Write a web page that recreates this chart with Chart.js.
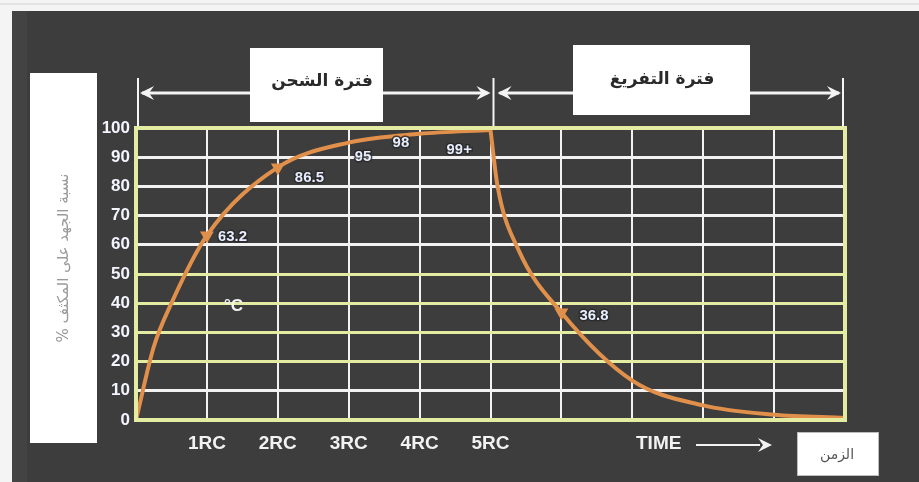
<!DOCTYPE html>
<html lang="ar">
<head>
<meta charset="UTF-8">
<title>RC charge / discharge</title>
<style>
  html, body { margin: 0; padding: 0; background: #f4f4f4; }
  canvas { display: block; }
</style>
</head>
<body>
<canvas id="rcChart" width="919" height="482" dir="ltr"></canvas>

<script src="https://cdn.jsdelivr.net/npm/chart.js"></script>
<script>
    // values (time in RC, voltage in %)
    const chargeTime = [0, 0.25, 0.5, 1, 2, 3, 4, 5];
    const chargeVolt = [0, 25, 40, 63.2, 86.5, 95, 98, 99.3];
    const dischargeTime = [5, 5.1, 5.4, 6, 7, 8, 9, 10];
    const dischargeVolt = [99.3, 80, 58, 36.8, 13.5, 5, 1.8, 0.7];

    const xTickLabels = ['', '1RC', '2RC', '3RC', '4RC', '5RC', '', '', '', '', ''];
    const yTicks = [0, 10, 20, 30, 40, 50, 60, 70, 80, 90, 100];
    const yellowRows = [20, 30, 40, 50];
    const markedTimes = [1, 2, 6];

    // point labels: [time, value, text, dx, dy]
    const pointLabels = [
        [1, 63.2, '63.2', 11, 1],
        [2, 86.5, '86.5', 17, 10],
        [3, 95, '95', 6, 14],
        [4, 98, '98', -27, 9],
        [5, 99.3, '99+', -44, 20],
        [6, 36.8, '36.8', 18, 3]
    ];

    const chargeTitle = 'فترة الشحن';
    const dischargeTitle = 'فترة التفريغ';
    const yTitle = 'نسبة الجهد على المكثف %';
    const timeTitle = 'الزمن';

    const toXY = (xs, ys) => xs.map((x, i) => ({x: x, y: ys[i]}));

    const narrow = "'Liberation Sans Narrow', 'Arial Narrow', 'Liberation Sans', sans-serif";
    const lineColor = '#e0904a';

    function arrowHead(c, x, y, dir) {
        c.beginPath();
        c.moveTo(x, y);
        c.lineTo(x - dir * 14, y - 7);
        c.lineTo(x - dir * 9, y);
        c.lineTo(x - dir * 14, y + 7);
        c.closePath();
        c.fill();
    }

    // draw a label glyph by glyph so that no bidi reordering can move the "+"
    function labelText(c, text, x, y) {
        let cx = x;
        for (const ch of text) {
            c.lineWidth = 3;
            c.strokeStyle = 'rgba(40,40,40,0.8)';
            c.strokeText(ch, cx, y);
            c.fillStyle = '#e8eeff';
            c.fillText(ch, cx, y);
            cx += c.measureText(ch).width;
        }
    }

    const decorations = {
        id: 'decorations',
        beforeDraw(chart) {
            const c = chart.ctx;
            c.save();
            c.fillStyle = '#f4f4f4';
            c.fillRect(0, 0, chart.width, chart.height);
            c.fillStyle = '#e2e2e2';
            c.fillRect(0, 3, chart.width, 2);
            c.fillStyle = '#3d3d3d';
            c.fillRect(12, 11, chart.width - 12, chart.height - 11);
            c.fillStyle = '#434343';
            c.fillRect(12, 11, 15, chart.height - 11);
            c.restore();
        },
        afterDatasetsDraw(chart) {
            const c = chart.ctx;
            const xs = chart.scales.x, ys = chart.scales.y;
            const a = chart.chartArea;
            c.save();
            c.direction = 'ltr';

            // plot frame
            c.strokeStyle = '#e4eca2';
            c.lineWidth = 4;
            c.strokeRect(a.left, a.top, a.right - a.left, a.bottom - a.top);

            // value labels
            c.font = "bold 15px " + narrow;
            c.textBaseline = 'middle';
            c.textAlign = 'left';
            pointLabels.forEach(p => {
                const px = xs.getPixelForValue(p[0]);
                const py = ys.getPixelForValue(p[1]);
                labelText(c, p[2], px + p[3], py + p[4]);
            });

            // °C note
            c.font = "bold 17px " + narrow;
            c.fillStyle = '#f2f2f2';
            c.fillText('°C', 224, 306);

            // TIME arrow under the axis
            c.font = "bold 19px " + narrow;
            c.fillText('TIME', 636, 444);
            c.strokeStyle = '#f2f2f2';
            c.lineWidth = 2;
            c.beginPath();
            c.moveTo(696, 445);
            c.lineTo(760, 445);
            c.stroke();
            c.fillStyle = '#f2f2f2';
            arrowHead(c, 772, 445, 1);

            // top phase arrows
            const xStart = xs.getPixelForValue(0) + 2;
            const xMid = xs.getPixelForValue(5) + 3;
            const xEnd = xs.getPixelForValue(10) - 2;
            c.strokeStyle = '#f4f4f4';
            c.lineWidth = 2;
            [xStart, xMid, xEnd].forEach(x => {
                c.beginPath();
                c.moveTo(x, 78);
                c.lineTo(x, a.top - 2);
                c.stroke();
            });
            c.lineWidth = 3;
            c.beginPath();
            c.moveTo(xStart + 4, 93);
            c.lineTo(xMid - 6, 93);
            c.moveTo(xMid + 6, 93);
            c.lineTo(xEnd - 4, 93);
            c.stroke();
            c.fillStyle = '#f4f4f4';
            arrowHead(c, xStart + 2, 93, -1);
            arrowHead(c, xMid - 3, 93, 1);
            arrowHead(c, xMid + 4, 93, -1);
            arrowHead(c, xEnd - 2, 93, 1);

            // white label boxes
            c.fillStyle = '#ffffff';
            c.fillRect(250, 48, 133, 74);
            c.fillRect(573, 45, 177, 70);
            c.fillRect(30, 73, 67, 370);
            c.fillRect(797, 432, 81, 43);
            c.strokeStyle = '#bdbdbd';
            c.lineWidth = 1;
            c.strokeRect(797.5, 432.5, 81, 43);

            c.direction = 'rtl';
            c.textAlign = 'center';
            c.fillStyle = '#2a2a2a';
            c.font = "bold 17px 'DejaVu Sans', 'Noto Sans', sans-serif";
            c.fillText(chargeTitle, 322, 82);
            c.fillText(dischargeTitle, 662, 80);
            c.font = "14px 'DejaVu Sans', 'Noto Sans', sans-serif";
            c.fillStyle = '#555555';
            c.fillText(timeTitle, 837, 455);
            c.save();
            c.translate(64, 258);
            c.rotate(-Math.PI / 2);
            c.fillStyle = '#9a9a9a';
            c.font = "15px 'DejaVu Sans', 'Noto Sans', sans-serif";
            c.fillText(yTitle, 0, 0);
            c.restore();

            c.restore();
        }
    };

    const markerRadius = (times) => times.map(t => markedTimes.includes(t) ? 4 : 0);

    new Chart(document.getElementById('rcChart'), {
        type: 'line',
        data: {
            datasets: [
                {
                    label: 'charge',
                    data: toXY(chargeTime, chargeVolt),
                    borderColor: lineColor,
                    backgroundColor: lineColor,
                    borderWidth: 4,
                    cubicInterpolationMode: 'monotone',
                    pointStyle: 'triangle',
                    pointRotation: 180,
                    pointRadius: markerRadius(chargeTime)
                },
                {
                    label: 'discharge',
                    data: toXY(dischargeTime, dischargeVolt),
                    borderColor: lineColor,
                    backgroundColor: lineColor,
                    borderWidth: 4,
                    cubicInterpolationMode: 'monotone',
                    pointStyle: 'triangle',
                    pointRotation: 180,
                    pointRadius: markerRadius(dischargeTime)
                }
            ]
        },
        options: {
            responsive: false,
            animation: false,
            layout: {padding: {top: 128, right: 74, left: 0, bottom: 0}},
            plugins: {
                legend: {display: false},
                tooltip: {enabled: false}
            },
            scales: {
                x: {
                    type: 'linear',
                    min: 0,
                    max: 10,
                    afterFit: s => { s.height = 62; },
                    border: {display: false},
                    grid: {color: '#f2f2f2', lineWidth: 2, drawTicks: false},
                    ticks: {
                        stepSize: 1,
                        padding: 12,
                        color: '#f2f2f2',
                        font: {family: narrow, size: 19, weight: 'bold'},
                        callback: v => xTickLabels[v] || ''
                    }
                },
                y: {
                    min: 0,
                    max: 100,
                    afterFit: s => { s.width = 136; },
                    afterBuildTicks: s => { s.ticks = yTicks.map(v => ({value: v})); },
                    border: {display: false},
                    grid: {
                        lineWidth: 3,
                        drawTicks: false,
                        color: ctx => yellowRows.includes(ctx.tick.value) ? '#e4eca2' : '#f2f2f2'
                    },
                    ticks: {
                        padding: 6,
                        color: '#f4f4ff',
                        font: {family: narrow, size: 17, weight: 'bold'}
                    }
                }
            }
        },
        plugins: [decorations]
    });
</script>
</body>
</html>
